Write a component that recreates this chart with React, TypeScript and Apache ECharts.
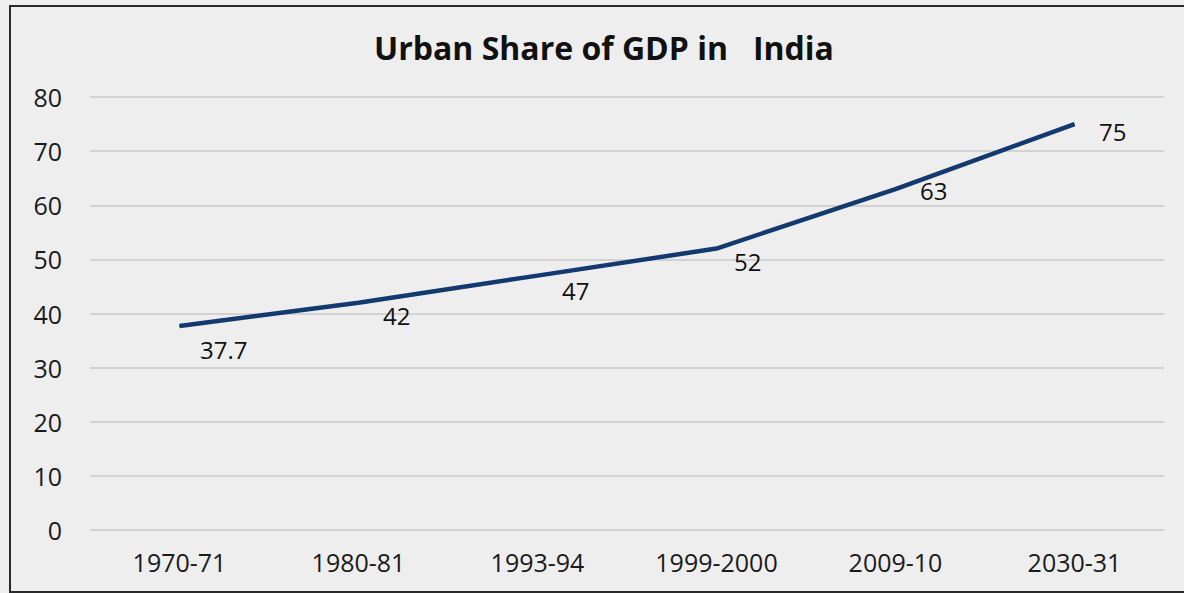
import React, { useEffect, useRef } from "react";
import * as echarts from "echarts";

const title = "Urban Share of GDP in   India";
const categories = ["1970-71", "1980-81", "1993-94", "1999-2000", "2009-10", "2030-31"];
const urbanShare = [37.7, 42, 47, 52, 63, 75];
const yTicks = { min: 0, max: 80, interval: 10 };

const FONT = "'Open Sans', 'Noto Sans', sans-serif";

export default function App() {
  const ref = useRef<HTMLDivElement>(null);
  useEffect(() => {
    document.body.style.margin = "0";
    // per-point label nudges (style only), mimicking the reference's label placement
    const labelNudge = [[-4, 24], [0, 13], [0, 15], [-7, 13], [0, 1], [0, 7]];
    const chart = echarts.init(ref.current!, null, { renderer: "svg" });
    chart.setOption({
      animation: false,
      backgroundColor: "#eeeeee",
      title: {
        text: title,
        left: 369,
        top: 26,
        textStyle: { fontFamily: FONT, fontWeight: "bold", fontSize: 32, color: "#111" },
      },
      graphic: [
        {
          type: "rect",
          shape: { x: 10, y: 6, width: 1200, height: 586 },
          style: { fill: "none", stroke: "#2a2a2a", lineWidth: 2 },
          silent: true,
        },
      ],
      grid: { left: 90, right: 20, top: 97, bottom: 63 },
      xAxis: {
        type: "category",
        data: categories,
        boundaryGap: true,
        axisLine: { show: false },
        axisTick: { show: false },
        axisLabel: { fontFamily: FONT, fontSize: 25, fontWeight: 500, color: "#1a1a1a", margin: 19 },
      },
      yAxis: {
        type: "value",
        min: yTicks.min,
        max: yTicks.max,
        interval: yTicks.interval,
        axisLine: { show: false },
        axisTick: { show: false },
        axisLabel: { fontFamily: FONT, fontSize: 25, fontWeight: 500, color: "#1a1a1a", margin: 28 },
        splitLine: { lineStyle: { color: "#c9c9c9", width: 1.5 } },
      },
      series: [
        {
          type: "line",
          data: urbanShare.map((v, i) => ({
            value: v,
            label: { offset: labelNudge[i] },
          })),
          symbol: "circle",
          symbolSize: 1,
          showSymbol: true,
          itemStyle: { color: "#133a6e" },
          lineStyle: { color: "#133a6e", width: 4.5 },
          label: {
            show: true,
            position: "right",
            distance: 24,
            fontFamily: FONT,
            fontSize: 24,
            fontWeight: 500,
            color: "#111",
          },
        },
      ],
    });
    return () => chart.dispose();
  }, []);
  return <div ref={ref} style={{ width: 1184, height: 593 }} />;
}
